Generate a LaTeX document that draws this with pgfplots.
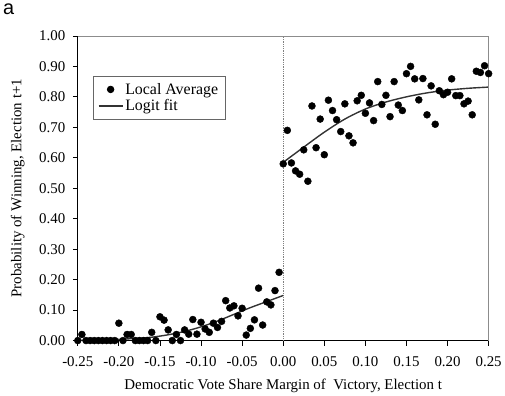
\documentclass[border=0pt]{standalone}
\usepackage{fontspec}
\setmainfont{Liberation Serif}
\newfontfamily\sansf{Liberation Sans}
\usepackage{pgfplots}
\usepackage{pgfplotstable}
\pgfplotsset{compat=1.18}
\pgfplotsset{legend image code/.code={\draw[mark repeat=2,mark phase=2,mark size=3.3bp,#1] plot coordinates {(0bp,0bp)(12bp,0bp)(24bp,0bp)};}}
\pgfplotstableread{
x y
-0.250 0.00
-0.245 0.02
-0.240 0
-0.235 0
-0.230 0
-0.225 0
-0.220 0
-0.215 0
-0.210 0
-0.205 0
-0.200 0.057
-0.195 0
-0.190 0.02
-0.185 0.02
-0.180 0
-0.175 0
-0.170 0
-0.165 0
-0.160 0.027
-0.155 0
-0.150 0.078
-0.145 0.067
-0.140 0.035
-0.135 0
-0.130 0.02
-0.125 0
-0.120 0.035
-0.115 0.021
-0.110 0.069
-0.105 0.021
-0.100 0.06
-0.095 0.038
-0.090 0.027
-0.085 0.057
-0.080 0.043
-0.075 0.063
-0.070 0.131
-0.065 0.107
-0.060 0.114
-0.055 0.081
-0.050 0.106
-0.045 0.018
-0.040 0.040
-0.035 0.068
-0.030 0.172
-0.025 0.051
-0.020 0.127
-0.015 0.117
-0.010 0.164
-0.005 0.224
}\leftdata
\pgfplotstableread{
x y
0.000 0.58
0.005 0.69
0.010 0.583
0.015 0.557
0.020 0.546
0.025 0.626
0.030 0.523
0.035 0.77
0.040 0.633
0.045 0.727
0.050 0.61
0.055 0.789
0.060 0.755
0.065 0.725
0.070 0.686
0.075 0.777
0.080 0.672
0.085 0.649
0.090 0.787
0.095 0.805
0.100 0.746
0.105 0.78
0.110 0.722
0.115 0.85
0.120 0.775
0.125 0.805
0.130 0.735
0.135 0.85
0.140 0.773
0.145 0.755
0.150 0.876
0.155 0.9
0.160 0.859
0.165 0.79
0.170 0.86
0.175 0.741
0.180 0.836
0.185 0.71
0.190 0.82
0.195 0.807
0.200 0.815
0.205 0.859
0.210 0.804
0.215 0.804
0.220 0.777
0.225 0.786
0.230 0.741
0.235 0.884
0.240 0.88
0.245 0.902
0.250 0.876
}\rightdata
\begin{document}
\begin{tikzpicture}
\begin{axis}[
  name=ax,
  scale only axis,
  width=412bp, height=305.5bp,
  xmin=-0.25, xmax=0.25, ymin=0, ymax=1,
  axis lines=left,
  axis line style={-, black, line width=0.8bp},
  xtick={-0.25,-0.2,...,0.25},
  ytick={0,0.1,...,1.0},
  tick align=outside,
  major tick length=5bp,
  tick style={black, line width=0.8bp},
  /pgf/number format/assume math mode=true,
  xticklabel style={/pgf/number format/.cd, fixed, fixed zerofill, precision=2, /tikz/.cd, yshift=-8bp},
  yticklabel style={/pgf/number format/.cd, fixed, fixed zerofill, precision=2, /tikz/.cd, xshift=-4bp},
  ticklabel style={font=\fontsize{15}{18}\selectfont},
  scaled ticks=false,
  xlabel={Democratic Vote Share Margin of\ \ Victory, Election t},
  ylabel={Probability of Winning, Election t+1},
  every axis x label/.style={at={(axis description cs:0.5,-0.148)}, anchor=center, font=\fontsize{15}{18}\selectfont},
  every axis y label/.style={at={(axis description cs:-0.146,0.5)}, anchor=center, rotate=90, font=\fontsize{15}{18}\selectfont},
  clip=false,
  legend style={at={(0.036,0.869)}, anchor=north west, draw=black!60, line width=0.8bp,
    font=\fontsize{16}{19}\selectfont, inner xsep=5bp, inner ysep=5bp, row sep=0bp,
    /tikz/every even column/.append style={column sep=5bp}},
  legend cell align=left,
]
\addplot[black!50, densely dotted, line width=0.8bp, forget plot] coordinates {(0,0) (0,1)};
\addplot[only marks, mark=*, mark size=3.5bp, black] table[x=x,y=y] {\leftdata};
\addlegendentry{Local Average}
\addplot[only marks, mark=*, mark size=3.5bp, black, forget plot] table[x=x,y=y] {\rightdata};
\addplot[black!80, line width=1.4bp, smooth] coordinates {(-0.25,0.001)(-0.22,0.002)(-0.2,0.004)(-0.18,0.007)(-0.16,0.011)(-0.14,0.019)(-0.12,0.03)(-0.1,0.045)(-0.08,0.064)(-0.06,0.086)(-0.04,0.108)(-0.02,0.128)(0,0.148)};
\addlegendentry{Logit fit}
\addplot[black!80, line width=1.4bp, smooth, forget plot] coordinates {(0,0.585)(0.025,0.635)(0.05,0.684)(0.075,0.727)(0.1,0.76)(0.125,0.783)(0.15,0.8)(0.175,0.813)(0.2,0.822)(0.225,0.828)(0.25,0.832)};
\draw[black!45, line width=0.8bp] (rel axis cs:0,1) -- (rel axis cs:1,1) -- (rel axis cs:1,0);
\end{axis}
\node[anchor=north west, inner sep=0pt, font=\sansf\fontsize{20}{22}\selectfont] at ([xshift=-75bp, yshift=32bp]ax.north west) {a};
\path ([xshift=-78bp, yshift=-49.5bp]ax.south west) rectangle ++(505bp,391bp);
\end{tikzpicture}
\end{document}
